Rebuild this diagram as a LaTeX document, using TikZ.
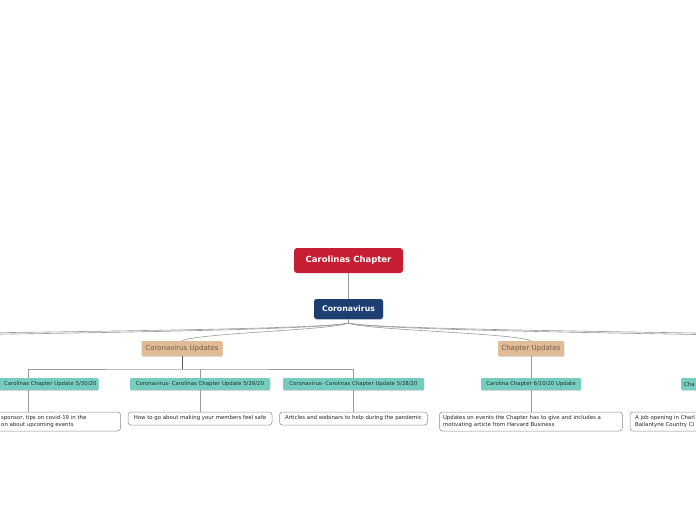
\documentclass[tikz,border=0pt]{standalone}
\usepackage{fontspec}
\setmainfont{DejaVu Sans}
\usetikzlibrary{shadows}
\definecolor{rootred}{RGB}{200,30,52}
\definecolor{mainblue}{RGB}{28,62,112}
\definecolor{tanfill}{RGB}{225,186,150}
\definecolor{tantext}{RGB}{110,90,72}
\definecolor{tealfill}{RGB}{118,205,190}
\definecolor{tealtext}{RGB}{30,52,52}
\definecolor{leafgrey}{RGB}{140,140,140}
\definecolor{linegrey}{RGB}{155,155,155}
\begin{document}
\begin{tikzpicture}[x=1pt,y=-1pt,
  rootbox/.style={fill=rootred, rounded corners=3pt, text=white, font=\bfseries\fontsize{8.5}{9}\selectfont, minimum width=109pt, minimum height=25pt, inner sep=0pt},
  mainbox/.style={fill=mainblue, rounded corners=2.5pt, text=white, font=\bfseries\fontsize{7.8}{8}\selectfont, minimum width=69pt, minimum height=20pt, inner sep=0pt, drop shadow={shadow xshift=0.4pt, shadow yshift=-0.8pt, opacity=0.3}},
  topicbox/.style={fill=tanfill, rounded corners=1pt, text=tantext, font=\fontsize{7}{8}\selectfont, minimum height=15pt, inner sep=0pt, drop shadow={shadow xshift=0.4pt, shadow yshift=-0.8pt, opacity=0.25}},
  subbox/.style={fill=tealfill, rounded corners=1pt, text=tealtext, font=\fontsize{5.4}{6}\selectfont, minimum height=12pt, inner sep=0pt, drop shadow={shadow xshift=0.4pt, shadow yshift=-0.8pt, opacity=0.25}},
  leafbox/.style={draw=leafgrey, line width=0.5pt, fill=white, rounded corners=3pt, text=black!85, font=\fontsize{5.4}{6.4}\selectfont, inner sep=0pt},
  leaftext/.style={text=black!85, font=\fontsize{5.4}{6.4}\selectfont, align=left, inner sep=0pt},
  conn/.style={draw=linegrey, line width=0.6pt},
  darkconn/.style={draw=black!65, line width=0.7pt}]
\useasboundingbox (0,0) rectangle (696,520);
\fill[white] (0,0) rectangle (696,520);
\clip (0,0) rectangle (696,520);

% nodes
\node[rootbox] (root) at (348.5,260.5) {Carolinas Chapter};
\node[mainbox] (main) at (348.5,309) {Coronavirus};
\node[topicbox, minimum width=81pt] (cu) at (182,348.5) {Coronavirus Updates};
\node[topicbox, minimum width=66pt] (chu) at (531,348.5) {Chapter Updates};

\node[subbox, minimum width=140pt, text width=136pt, align=right] (s1) at (28.5,384) {Carolinas Chapter Update 5/30/20};
\node[subbox, minimum width=140pt] (s2) at (200,384) {Coronavirus- Carolinas Chapter Update 5/29/20};
\node[subbox, minimum width=141pt] (s3) at (353.5,384) {Coronavirus- Carolinas Chapter Update 5/28/20};
\node[subbox, minimum width=100pt] (s4) at (531,384) {Carolina Chapter 6/10/20 Update};
\node[subbox, minimum width=90pt] (s5) at (726,384) {};
\node[leaftext, anchor=west, text=tealtext, font=\fontsize{5.4}{6}\selectfont] (s5t) at (684,384) {Cha};

\node[leafbox, minimum width=184pt, minimum height=19pt] (l1) at (28.5,421.5) {};
\node[leaftext, anchor=west] (l1t) at (1,421.5) {sponsor, tips on covid-19 in the\\on about upcoming events};
\node[leafbox, minimum width=144pt, minimum height=13pt] (l2) at (200,418.5) {How to go about making your members feel safe};
\node[leafbox, minimum width=148pt, minimum height=13pt] (l3) at (353.5,418.5) {Articles and webinars to help during the pandemic};
\node[leafbox, minimum width=183pt, minimum height=19pt, text width=176pt, align=left] (l4) at (531,421.5) {Updates on events the Chapter has to give and includes a\\motivating article from Harvard Business};
\node[leafbox, minimum width=184pt, minimum height=19pt] (l5) at (722,421.5) {};
\node[leaftext, anchor=west] (l5t) at (635,421.5) {A job opening in Charl\\Ballantyne Country Cl};

% connectors
\coordinate (hub) at (348.5,323);
\coordinate (offl1) at (-150,335);
\coordinate (offl2) at (-260,338);
\coordinate (offr1) at (850,336);
\coordinate (offr2) at (960,339);
\coordinate (cuj) at (182,369);

\draw[conn] (root.south) -- (main.north);
\draw[conn] (main.south) -- (hub);
\draw[conn] (hub) .. controls (320,330) and (0,332) .. (offl1);
\draw[conn] (hub) .. controls (320,331) and (0,334) .. (offl2);
\draw[conn] (hub) .. controls (335,330) and (198,333) .. (cu.north);
\draw[conn] (hub) .. controls (362,330) and (515,333) .. (chu.north);
\draw[conn] (hub) .. controls (377,330) and (696,332) .. (offr1);
\draw[conn] (hub) .. controls (377,331) and (696,334) .. (offr2);

\draw[darkconn] (cu.south) -- (cuj);
\draw[conn] (s1.north) |- (cuj) -| (s3.north);
\draw[conn] (s2.north) -- (s2.north |- cuj);
\draw[conn] (s1.south) -- (l1.north);
\draw[conn] (s2.south) -- (l2.north);
\draw[conn] (s3.south) -- (l3.north);
\draw[conn] (chu.south) -- (s4.north);
\draw[conn] (s4.south) -- (l4.north);
\end{tikzpicture}
\end{document}
